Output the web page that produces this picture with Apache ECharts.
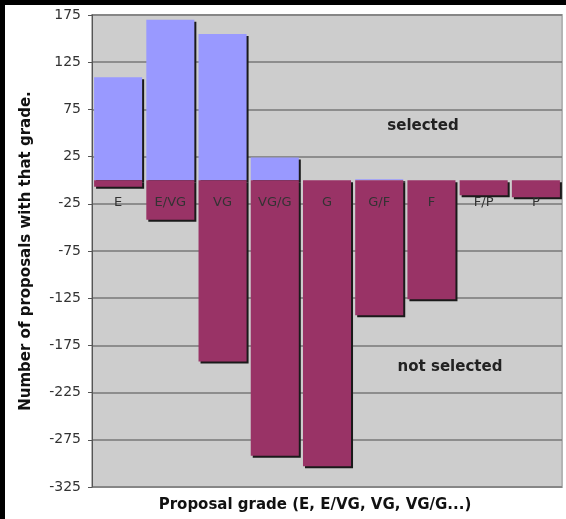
<!DOCTYPE html>
<html>
<head>
<meta charset="utf-8">
<script src="https://cdn.jsdelivr.net/npm/echarts@6/dist/echarts.min.js"></script>
<style>
  html, body { margin: 0; padding: 0; background: #000; }
  #chart { position: absolute; left: 5px; top: 5px; width: 561px; height: 514px; background: #fff; }
</style>
</head>
<body>
<div id="chart"></div>
<script>
// Grades along the x axis
const grades = ['E', 'E/VG', 'VG', 'VG/G', 'G', 'G/F', 'F', 'F/P', 'P'];

// Proposals selected (above zero) and not selected (below zero)
const selected = [109, 170, 155, 24, 0, 1, 0, 0, 0];
const notSelected = [-7, -42, -192, -292, -303, -143, -126, -16, -18];

// Y axis range
const yMin = -325;
const yMax = 175;
const yStep = 50;

const FONT = '"DejaVu Sans", Verdana, sans-serif';

const chart = echarts.init(document.getElementById('chart'), null, { renderer: 'canvas' });

// shared bar look: flat fill with a hard dark drop shadow
function barStyle(color) {
  return {
    color: color,
    shadowColor: '#1a1a1a',
    shadowBlur: 0,
    shadowOffsetX: 2,
    shadowOffsetY: 2
  };
}

chart.setOption({
  animation: false,
  grid: {
    left: 87,
    top: 10,
    right: 4,
    bottom: 32,
    show: true,
    backgroundColor: '#cdcdcd',
    borderColor: '#b4b4b4',
    borderWidth: 2
  },
  xAxis: {
    type: 'category',
    data: grades,
    z: 10,
    axisLine: { show: false },
    axisTick: { show: false },
    axisLabel: {
      margin: 16,
      fontSize: 13,
      fontFamily: FONT,
      color: '#333'
    }
  },
  yAxis: {
    type: 'value',
    min: yMin,
    max: yMax,
    interval: yStep,
    name: 'Number of proposals with that grade.',
    nameLocation: 'middle',
    nameGap: 58,
    nameTextStyle: {
      fontSize: 15,
      fontWeight: 'bold',
      fontFamily: FONT,
      color: '#111'
    },
    axisLine: { show: true, lineStyle: { color: '#555', width: 1 } },
    axisTick: { show: true, length: 4, lineStyle: { color: '#555' } },
    axisLabel: {
      margin: 11,
      fontSize: 14,
      fontFamily: FONT,
      color: '#333'
    },
    splitLine: { show: true, lineStyle: { color: '#777', width: 1.5 } }
  },
  series: [
    {
      name: 'selected',
      type: 'bar',
      data: selected,
      barCategoryGap: '8%',
      barGap: '-100%',
      itemStyle: barStyle('#9999ff')
    },
    {
      name: 'not selected',
      type: 'bar',
      data: notSelected,
      barCategoryGap: '8%',
      barGap: '-100%',
      itemStyle: barStyle('#993366')
    }
  ],
  graphic: [
    {
      type: 'text',
      x: 418,
      y: 121,
      style: { text: 'selected', font: 'bold 15px ' + FONT, fill: '#222', align: 'center', verticalAlign: 'middle' }
    },
    {
      type: 'text',
      x: 445,
      y: 362,
      style: { text: 'not selected', font: 'bold 15px ' + FONT, fill: '#222', align: 'center', verticalAlign: 'middle' }
    },
    {
      type: 'text',
      x: 310,
      y: 500,
      style: { text: 'Proposal grade (E, E/VG, VG, VG/G...)', font: 'bold 15px ' + FONT, fill: '#111', align: 'center', verticalAlign: 'middle' }
    }
  ]
});

// onZero does not take here, so lift the category labels up to the zero line by hand
const zeroY = chart.convertToPixel({ yAxisIndex: 0 }, 0);
const bottomY = chart.convertToPixel({ yAxisIndex: 0 }, yMin);
chart.setOption({ xAxis: { offset: zeroY - bottomY } });

window.addEventListener('resize', () => chart.resize());
</script>
</body>
</html>
